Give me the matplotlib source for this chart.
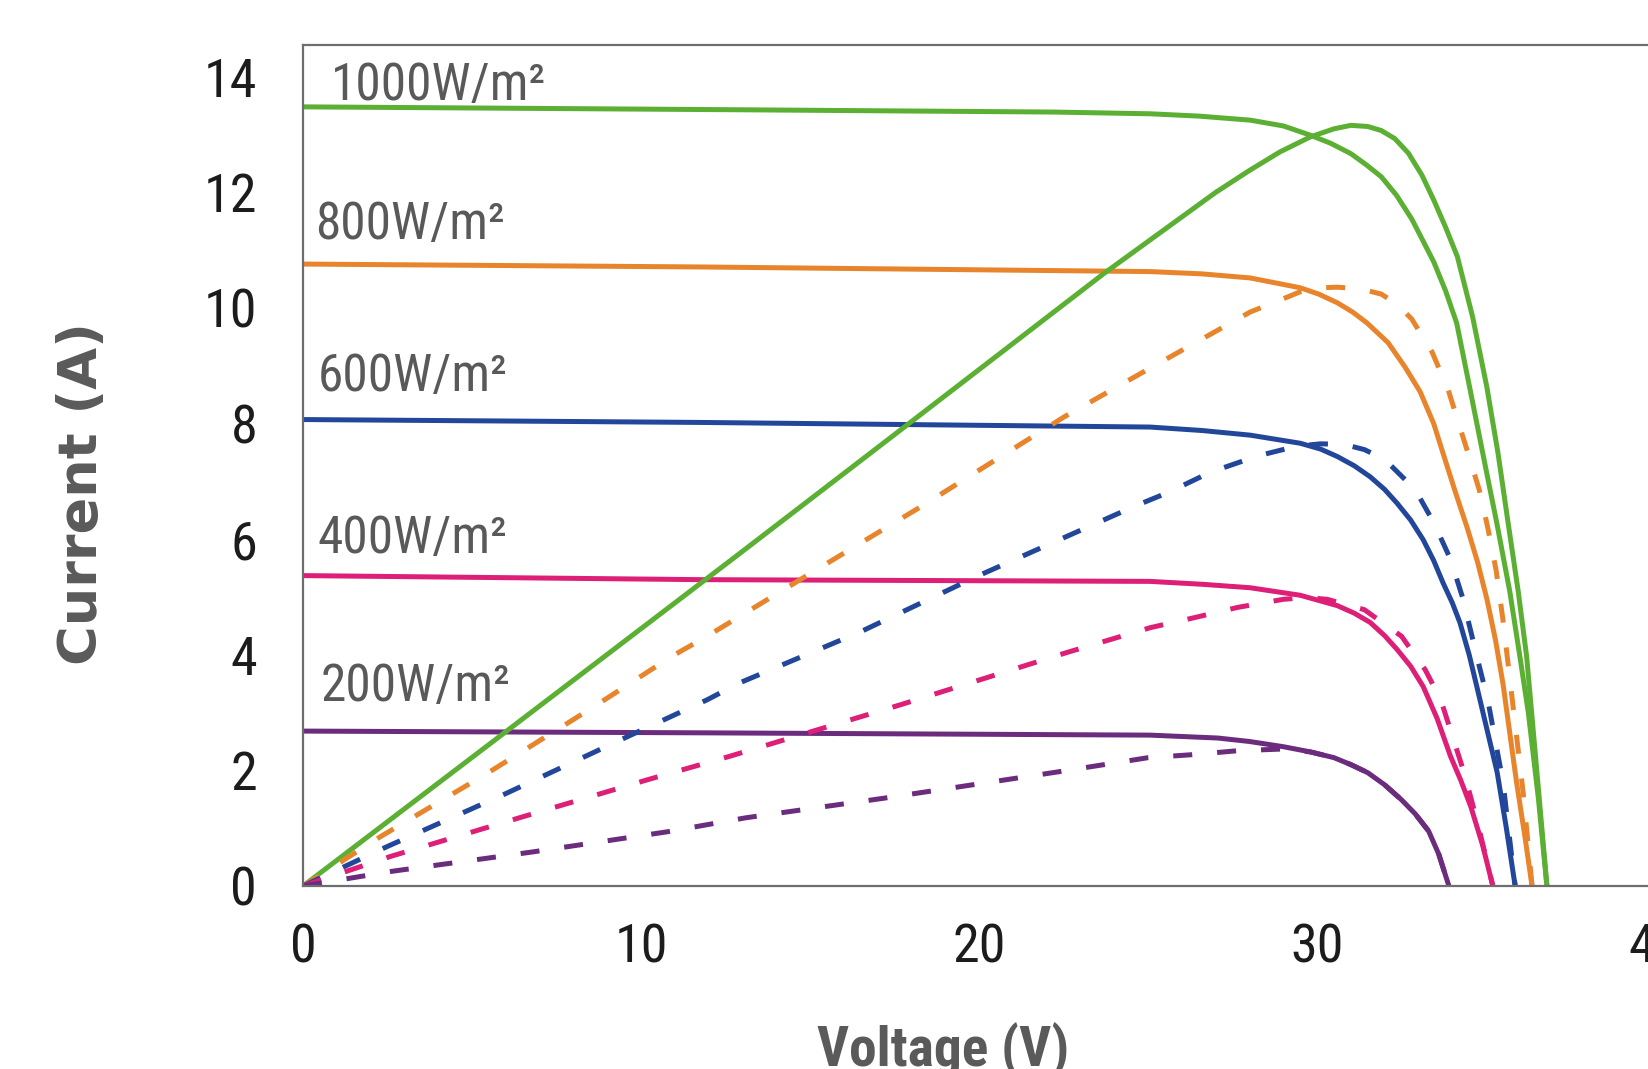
import matplotlib
matplotlib.use("Agg")
import matplotlib.pyplot as plt
from matplotlib import font_manager

# Voltage (V) / current (A) readings for each irradiance level
irradiance_labels = ["1000W/m²", "800W/m²", "600W/m²", "400W/m²", "200W/m²"]

v_iv_1000 = [0, 12.8, 22.2, 25.06, 26.5, 28.02, 29.0, 29.8, 30.4, 31.0, 31.45, 31.9, 32.35,
             32.8, 33.1, 33.45, 33.8, 34.13, 34.53, 35.0, 35.32, 35.7, 36.0, 36.25, 36.55, 36.8]
i_iv_1000 = [13.48, 13.43, 13.39, 13.36, 13.32, 13.25, 13.15, 12.99, 12.85, 12.67, 12.48, 12.27, 11.95,
             11.54, 11.2, 10.8, 10.3, 9.74, 8.58, 7.2, 6.27, 5.1, 3.97, 3.0, 1.5, 0]

v_iv_800 = [0, 11.75, 25.06, 26.6, 28.02, 29.5, 30.05, 30.6, 31.05, 31.48, 32.1, 32.6, 33.05,
            33.45, 33.8, 34.1, 34.44, 34.75, 35.03, 35.28, 35.5, 35.7, 35.9, 36.15, 36.36]
i_iv_800 = [10.76, 10.71, 10.63, 10.59, 10.52, 10.35, 10.24, 10.09, 9.93, 9.74, 9.4, 8.98, 8.55,
            8.0, 7.35, 6.8, 6.2, 5.6, 4.95, 4.25, 3.5, 2.65, 1.8, 0.85, 0]

v_iv_600 = [0, 11.75, 25.06, 26.6, 28.02, 29.5, 30.1, 30.6, 31.1, 31.57, 32.0, 32.37, 32.77,
            33.14, 33.45, 33.73, 34.0, 34.23, 34.5, 34.73, 35.05, 35.33, 35.6, 35.86]
i_iv_600 = [8.07, 8.02, 7.94, 7.88, 7.80, 7.66, 7.56, 7.43, 7.27, 7.08, 6.86, 6.62, 6.33,
            5.99, 5.63, 5.24, 4.9, 4.55, 4.0, 3.44, 2.65, 1.96, 1.0, 0]

v_iv_400 = [0, 11.75, 25.06, 26.6, 28.02, 29.5, 30.6, 31.1, 31.57, 32.0, 32.37, 32.77, 33.14,
            33.55, 33.95, 34.25, 34.55, 34.9, 35.2]
i_iv_400 = [5.37, 5.30, 5.27, 5.22, 5.16, 5.03, 4.85, 4.72, 4.56, 4.33, 4.09, 3.8, 3.45,
            2.9, 2.24, 1.83, 1.37, 0.7, 0]

v_iv_200 = [0, 11.75, 25.06, 27.06, 28.0, 29.0, 29.8, 30.5, 31.0, 31.5, 32.0, 32.5, 32.9, 33.3, 33.6, 33.9]
i_iv_200 = [2.68, 2.65, 2.61, 2.56, 2.5, 2.41, 2.32, 2.22, 2.1, 1.96, 1.75, 1.49, 1.25, 0.95, 0.55, 0]

# power curves (scaled onto the current axis)
v_pv_1000 = [0, 6.0, 12.8, 17.9, 23.7, 27.0, 28.0, 28.9, 29.8, 30.5, 31.0, 31.5, 31.9, 32.3, 32.7,
             33.1, 33.45, 33.8, 34.15, 34.6, 35.02, 35.35, 35.65, 35.95, 36.2, 36.5, 36.8]
p_pv_1000 = [0, 2.67, 5.70, 7.99, 10.6, 12.0, 12.38, 12.7, 12.96, 13.1, 13.16, 13.14, 13.07, 12.93,
             12.68, 12.3, 11.87, 11.4, 10.89, 9.85, 8.64, 7.5, 6.29, 5.1, 3.97, 2.0, 0]

v_pv_800 = [0, 2.28, 5.45, 8.6, 10.9, 11.95, 15.1, 18.3, 22.5, 25.0, 28.02, 29.0, 29.5, 30.1, 30.6,
            31.3, 31.9, 32.35, 32.8, 33.4, 33.87, 34.46, 34.8, 35.05, 35.3, 35.5, 35.7, 35.9, 36.1, 36.36]
p_pv_800 = [0, 0.85, 1.95, 3.1, 3.97, 4.32, 5.44, 6.57, 8.11, 8.94, 9.93, 10.16, 10.28, 10.35, 10.36,
            10.33, 10.24, 10.07, 9.81, 9.24, 8.6, 7.5, 6.85, 6.2, 5.45, 4.6, 3.6, 2.6, 1.6, 0]

v_pv_600 = [0, 2.48, 6.04, 9.4, 11.95, 12.9, 16.5, 19.95, 24.6, 25.6, 26.85, 28.24, 29.4, 30.1, 30.8,
            31.4, 32.0, 32.9, 33.45, 33.95, 34.3, 34.8, 35.05, 35.5, 35.86]
p_pv_600 = [0, 0.68, 1.61, 2.53, 3.22, 3.51, 4.4, 5.36, 6.57, 6.81, 7.16, 7.44, 7.61, 7.65, 7.64,
            7.55, 7.38, 6.86, 6.29, 5.65, 5.0, 3.8, 3.22, 1.8, 0]

v_pv_400 = [0, 2.58, 6.4, 10.2, 12.6, 17.7, 22.6, 25.07, 26.35, 27.65, 29.0, 29.7, 30.3, 31.4, 32.5,
            33.2, 33.66, 34.35, 34.75, 35.2]
p_pv_400 = [0, 0.51, 1.18, 1.84, 2.24, 3.14, 4.04, 4.47, 4.64, 4.82, 4.96, 4.99, 4.96, 4.78, 4.32,
            3.74, 3.22, 1.96, 1.09, 0]

v_pv_200 = [0, 2.58, 6.8, 10.8, 11.95, 13.1, 17.2, 22.4, 25.0, 26.26, 27.65, 29.0, 29.8, 30.5, 31.0,
            31.5, 32.0, 32.5, 32.9, 33.3, 33.6, 33.9]
p_pv_200 = [0, 0.25, 0.59, 0.94, 1.06, 1.18, 1.52, 1.98, 2.22, 2.27, 2.34, 2.37, 2.32, 2.22, 2.1,
            1.96, 1.75, 1.49, 1.25, 0.95, 0.55, 0]

x_ticks = [0, 10, 20, 30, 40]
y_ticks = [0, 2, 4, 6, 8, 10, 12, 14]

GREEN = "#5BB033"
ORANGE = "#E8852C"
BLUE = "#22479A"
PINK = "#DD1F78"
PURPLE = "#6B2C7E"


def pick_narrow() -> tuple[str, float]:
    """Find a narrow sans family; return it with a size factor."""
    installed = {f.name for f in font_manager.fontManager.ttflist}
    for name in ("Liberation Sans Narrow", "Arial Narrow", "Roboto Condensed",
                 "Open Sans Condensed"):
        if name in installed:
            return name, 1.0
    return "Liberation Sans", 0.9


narrow, k = pick_narrow()

fig = plt.figure(figsize=(16.48, 10.69), dpi=100)
ax = fig.add_axes([0.1839, 0.1712, 0.8204, 0.7867])

lw = 3.6
for v, i, c in [(v_iv_1000, i_iv_1000, GREEN), (v_iv_800, i_iv_800, ORANGE),
                (v_iv_600, i_iv_600, BLUE), (v_iv_400, i_iv_400, PINK),
                (v_iv_200, i_iv_200, PURPLE), (v_pv_1000, p_pv_1000, GREEN)]:
    ax.plot(v, i, color=c, lw=lw, solid_joinstyle="round", solid_capstyle="round")

dash = (3.8, 5.0)
for v, p, c in [(v_pv_800, p_pv_800, ORANGE), (v_pv_600, p_pv_600, BLUE),
                (v_pv_400, p_pv_400, PINK), (v_pv_200, p_pv_200, PURPLE)]:
    ax.plot(v, p, color=c, lw=lw, dashes=dash, dash_joinstyle="round")

# irradiance labels
label_pos = [(0.83, 13.84), (0.37, 11.43), (0.42, 8.8), (0.42, 6.01), (0.53, 3.45)]
for text, (lx, ly) in zip(irradiance_labels, label_pos):
    ax.text(lx, ly, text, fontsize=37 * k, family=narrow, color="#595959",
            ha="left", va="center")

ax.set_xlim(0, 40)
ax.set_ylim(0, 14.55)
ax.set_xticks(x_ticks)
ax.set_yticks(y_ticks)
ax.tick_params(axis="both", length=0, labelsize=39 * k, labelcolor="#1c1c1c")
ax.tick_params(axis="x", pad=26)
ax.tick_params(axis="y", pad=33)
for lab in ax.get_xticklabels() + ax.get_yticklabels():
    lab.set_family(narrow)

for sp in ax.spines.values():
    sp.set_color("#6e6e6e")
    sp.set_linewidth(1.6)

fig.text(0.0498, 0.538, "Current (A)", rotation=90, ha="center", va="center",
         fontsize=39, fontweight="bold", family="DejaVu Sans", color="#5a5a5a")
fig.text(0.572, 0.002, "Voltage (V)", ha="center", va="baseline",
         fontsize=40 * k, fontweight="bold", family=narrow, color="#5a5a5a")

fig.savefig("out.png", dpi=100)
